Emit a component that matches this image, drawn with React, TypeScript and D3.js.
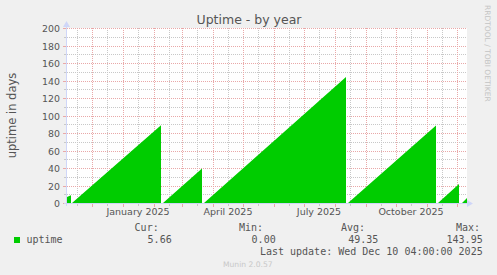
import React from 'react';
import * as d3 from 'd3';

const W = 497;
const H = 275;

const title = 'Uptime - by year';
const yAxisTitle = 'uptime in days';
const yTickValues = [0, 20, 40, 60, 80, 100, 120, 140, 160, 180, 200];
const yMinorValues = [10, 30, 50, 70, 90, 110, 130, 150, 170, 190];
const xLabelMonths = ['2025-01-01', '2025-04-01', '2025-07-01', '2025-10-01'];
const xLabelTexts = ['January 2025', 'April 2025', 'July 2025', 'October 2025'];
const domainDates = ['2024-11-06', '2025-12-11'];

// vertices of the uptime sawtooth (date, uptime in days)
const sampleDates = [
  '2024-11-06', '2024-11-10', '2024-11-10',
  '2024-11-11', '2025-02-08', '2025-02-08',
  '2025-02-10', '2025-03-21', '2025-03-21',
  '2025-03-23', '2025-08-12', '2025-08-12',
  '2025-08-14', '2025-11-10', '2025-11-10',
  '2025-11-12', '2025-12-03', '2025-12-03',
  '2025-12-06', '2025-12-11',
];
const uptimeValues = [
  7, 9, 0,
  0, 89, 0,
  0, 39.5, 0,
  0, 143.95, 0,
  0, 88.5, 0,
  0, 21.8, 0,
  0, 5.66,
];

const legendName = 'uptime';
const statLabels = ['Cur:', 'Min:', 'Avg:', 'Max:'];
const statValues = ['5.66', '0.00', '49.35', '143.95'];
const lastUpdate = 'Last update: Wed Dec 10 04:00:00 2025';
const version = 'Munin 2.0.57';
const sideText = 'RRDTOOL / TOBI OETIKER';

const parse = (s: string) => new Date(s + 'T00:00:00Z');

export default function App() {
  const x = d3.scaleUtc().domain(domainDates.map(parse)).range([67, 467]);
  const y = d3.scaleLinear().domain([0, 200]).range([203, 28]);

  const data = sampleDates.map((d, i) => ({ t: parse(d), v: uptimeValues[i] }));
  const area = d3
    .area<{ t: Date; v: number }>()
    .x((d) => x(d.t))
    .y0(y(0))
    .y1((d) => y(d.v));

  const [d0, d1] = x.domain();
  const monthStarts = d3.utcMonth.range(d0, d1);
  const midMonths = d3.utcMonth
    .range(d3.utcMonth.offset(d0, -1), d1)
    .map((m) => d3.utcDay.offset(m, 15))
    .filter((m) => m >= d0 && m <= d1);

  const px = (v: number) => Math.round(v) + 0.5;
  const red = '#E9A8A8';
  const gray = '#C8C8C8';
  const axisCol = '#CFD6F8';
  const font = 'DejaVu Sans, sans-serif';
  const mono = 'DejaVu Sans Mono, monospace';
  const txt = '#555555';

  const statX = [
    [158.7, 171.7],
    [263, 275.7],
    [365, 378.3],
    [480, 482.7],
  ];

  return (
    <svg
      width={W}
      height={H}
      style={{ position: 'absolute', left: 0, top: 0, background: '#F0F0F0' }}
    >
      <rect x={0} y={0} width={W} height={H} fill="#F0F0F0" />
      <rect x={67} y={28} width={400} height={175} fill="#FFFFFF" />

      {/* minor grid */}
      {yMinorValues.map((v) => (
        <g key={'ym' + v}>
          <line x1={67} x2={467} y1={px(y(v))} y2={px(y(v))} stroke={gray} strokeDasharray="1,1" />
          <line x1={64} x2={67} y1={px(y(v))} y2={px(y(v))} stroke={gray} />
        </g>
      ))}
      {midMonths.map((m, i) => (
        <g key={'xm' + i}>
          <line x1={px(x(m))} x2={px(x(m))} y1={28} y2={203} stroke={gray} strokeDasharray="1,1" />
          <line x1={px(x(m))} x2={px(x(m))} y1={203} y2={206} stroke={gray} />
        </g>
      ))}
      {/* major grid */}
      {yTickValues.map((v) => (
        <g key={'y' + v}>
          <line x1={67} x2={467} y1={px(y(v))} y2={px(y(v))} stroke={red} strokeDasharray="1,1" />
          <line x1={63} x2={67} y1={px(y(v))} y2={px(y(v))} stroke={red} />
          <text
            x={60}
            y={y(v) + 4}
            textAnchor="end"
            fontFamily={font}
            fontSize={9.4}
            fill={txt}
          >
            {v}
          </text>
        </g>
      ))}
      {monthStarts.map((m, i) => (
        <g key={'x' + i}>
          <line x1={px(x(m))} x2={px(x(m))} y1={28} y2={203} stroke={red} strokeDasharray="1,1" />
          <line x1={px(x(m))} x2={px(x(m))} y1={203} y2={207} stroke={red} />
        </g>
      ))}

      {/* data */}
      <path d={area(data) || ''} fill="#00CC00" />

      {/* axes */}
      <line x1={64} x2={470} y1={203.5} y2={203.5} stroke={axisCol} />
      <line x1={66.5} x2={66.5} y1={206} y2={25} stroke={axisCol} />
      <path d="M467,200 L473,203.5 L467,207 Z" fill={axisCol} />
      <path d="M63,27 L66.5,21 L70,27 Z" fill={axisCol} />

      {xLabelMonths.map((m, i) => (
        <text
          key={m}
          x={x(d3.utcDay.offset(parse(m), 15))}
          y={215}
          textAnchor="middle"
          fontFamily={font}
          fontSize={9.5}
          fill={txt}
        >
          {xLabelTexts[i]}
        </text>
      ))}

      <text x={249} y={24} textAnchor="middle" fontFamily={font} fontSize={12.5} fill={txt}>
        {title}
      </text>
      <text
        transform="translate(15.5,115.5) rotate(-90)"
        textAnchor="middle"
        fontFamily={font}
        fontSize={11.5}
        fill={txt}
      >
        {yAxisTitle}
      </text>
      <text
        transform="translate(485,5) rotate(90)"
        textAnchor="start"
        fontFamily={font}
        fontSize={7.5}
        fill="#C4C4C4"
      >
        {sideText}
      </text>

      {/* legend */}
      <rect x={14} y={237} width={6} height={6} fill="#00CC00" />
      <text x={26.5} y={243} fontFamily={mono} fontSize={10} fill={txt}>
        {legendName}
      </text>
      {statLabels.map((l, i) => (
        <g key={l}>
          <text x={statX[i][0]} y={231} textAnchor="end" fontFamily={mono} fontSize={10} fill={txt}>
            {l}
          </text>
          <text x={statX[i][1]} y={243} textAnchor="end" fontFamily={mono} fontSize={10} fill={txt}>
            {statValues[i]}
          </text>
        </g>
      ))}
      <text x={482.7} y={255} textAnchor="end" fontFamily={mono} fontSize={10} fill={txt}>
        {lastUpdate}
      </text>
      <text x={223} y={267} fontFamily={font} fontSize={7.6} fill="#C8C8C8">
        {version}
      </text>
    </svg>
  );
}
